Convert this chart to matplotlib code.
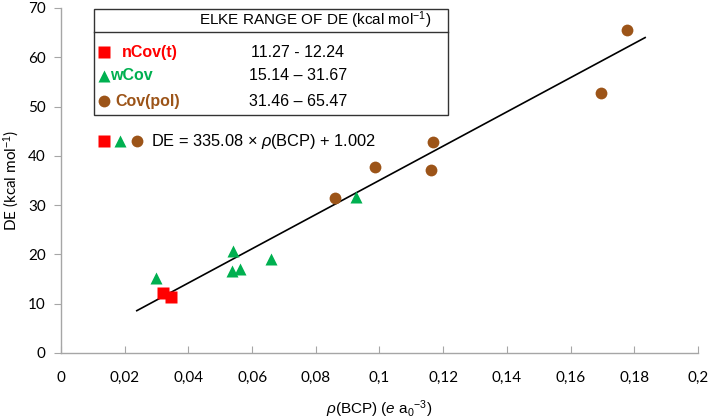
import numpy as np
import matplotlib
matplotlib.use("Agg")
import matplotlib.pyplot as plt
from matplotlib.patches import Rectangle
from matplotlib.ticker import FuncFormatter

plt.rcParams['mathtext.fontset'] = 'custom'
plt.rcParams['mathtext.rm'] = 'Liberation Sans'
plt.rcParams['mathtext.it'] = 'Liberation Sans:italic'

# --- data ---
ncov_x = [0.0319, 0.0347]
ncov_y = [12.24, 11.27]
wcov_x = [0.0297, 0.0541, 0.0538, 0.0563, 0.0660, 0.0926]
wcov_y = [15.14, 20.6, 16.7, 17.1, 19.1, 31.67]
cov_x = [0.0861, 0.0986, 0.1161, 0.1167, 0.1696, 0.1778]
cov_y = [31.46, 37.7, 37.2, 42.8, 52.7, 65.47]

table_names = ['nCov(t)', 'wCov', 'Cov(pol)']
table_ranges = ['11.27 - 12.24', '15.14 \u2013 31.67', '31.46 \u2013 65.47']

# trend line as drawn in the chart
fit_slope = 347.4
fit_icpt = 0.28
fit_range = [0.0238, 0.1834]

red = '#ff0000'
green = '#00b050'
brown = '#9c5418'
axis_grey = '#a6a6a6'

lx = np.array(fit_range)

fig = plt.figure(figsize=(7.09, 4.20), dpi=100)
ax = fig.add_axes([0.086, 0.160, 0.8985, 0.821])

ax.plot(lx, fit_slope * lx + fit_icpt, color='black', lw=1.2, zorder=2)
ax.plot(ncov_x, ncov_y, 's', color=red, ms=8.5, mec='none', zorder=3)
ax.plot(wcov_x, wcov_y, '^', color=green, ms=8.5, mec='none', zorder=3)
ax.plot(cov_x, cov_y, 'o', color=brown, ms=8.5, mec='none', zorder=3)

ax.set_xlim(0, 0.2)
ax.set_ylim(0, 70)
ax.set_xticks(np.arange(0, 0.2001, 0.02))
ax.set_yticks(np.arange(0, 71, 10))
ax.xaxis.set_major_formatter(FuncFormatter(lambda v, p: f"{v:.2f}".rstrip('0').rstrip('.').replace('.', ',') if v != 0 else '0'))

for s in ['top', 'right']:
    ax.spines[s].set_visible(False)
for s in ['left', 'bottom']:
    ax.spines[s].set_color(axis_grey)
    ax.spines[s].set_linewidth(1.0)
ax.tick_params(axis='x', direction='in', length=5, color=axis_grey, pad=13)
ax.tick_params(axis='y', direction='out', length=5, color=axis_grey, pad=6)
for lab in ax.get_xticklabels() + ax.get_yticklabels():
    lab.set_fontfamily('Lato')
    lab.set_fontsize(11)

ax.set_ylabel('DE (kcal mol$^{-1}$)', fontfamily='Lato', fontsize=11, labelpad=5)
ax.set_xlabel(r'$\rho$(BCP) ($e$ a$_0$$^{-3}$)', fontfamily='Liberation Sans', fontsize=11, labelpad=10)

# --- table box ---
T = ax.transAxes
ax.add_patch(Rectangle((0.052, 0.690), 0.556, 0.307, transform=T, fill=False,
                       ec='#333333', lw=1.0, zorder=4, clip_on=False))
ax.plot([0.052, 0.608], [0.930, 0.930], transform=T, color='#333333', lw=1.0, zorder=4)
ax.text(0.399, 0.965, 'ELKE RANGE OF DE (kcal mol$^{-1}$)', transform=T, ha='center', va='center',
        fontfamily='Liberation Sans', fontsize=11)

row_y = [0.872, 0.803, 0.730]
row_colors = [red, green, brown]
row_marks = ['s', '^', 'o']
name_x = [0.096, 0.077, 0.085]
for i in range(3):
    ax.plot([0.068], [row_y[i]], row_marks[i], transform=T, color=row_colors[i], ms=8.5, mec='none', clip_on=False)
    ax.text(name_x[i], row_y[i], table_names[i], transform=T, ha='left', va='center', color=row_colors[i],
            fontfamily='Liberation Sans', fontsize=11.5, fontweight='bold')
    ax.text(0.372, row_y[i], table_ranges[i], transform=T, ha='center', va='center',
            fontfamily='Liberation Sans', fontsize=11.5)

# equation row
eq_y = 0.614
for mx, mk, c in zip([0.067, 0.093, 0.119], row_marks, row_colors):
    ax.plot([mx], [eq_y], mk, transform=T, color=c, ms=8.5, mec='none')
ax.text(0.141, eq_y, r'DE = 335.08 $\times$ $\rho$(BCP) + 1.002', transform=T, ha='left', va='center',
        fontfamily='Liberation Sans', fontsize=11.8)

fig.savefig('out.png', dpi=100)
